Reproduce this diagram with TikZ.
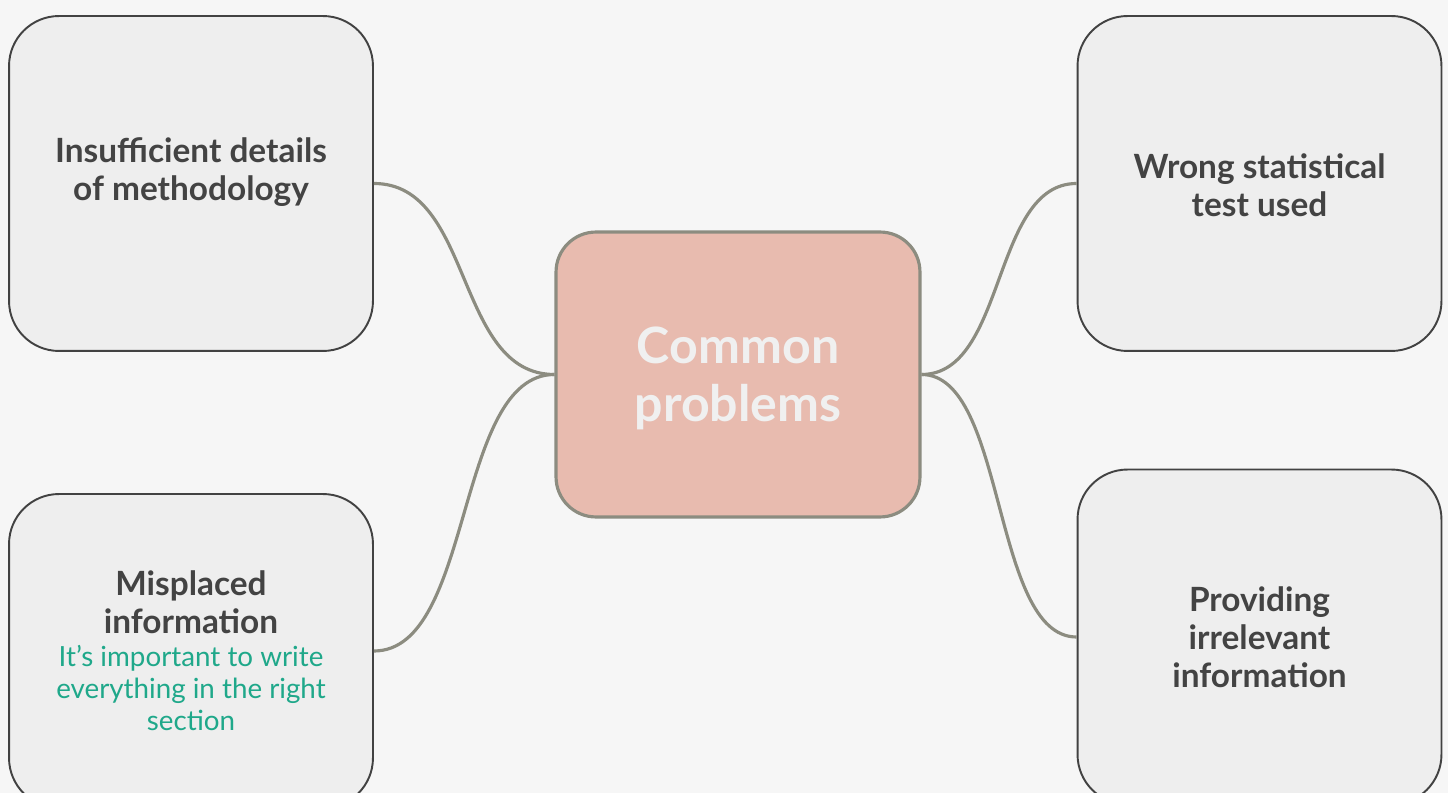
\documentclass[tikz,border=0pt]{standalone}
\usepackage{fontspec}
\setmainfont{Lato}
\usepackage{tikz}
\usetikzlibrary{positioning, calc}
\definecolor{mpBg}{HTML}{F6F6F6}
\definecolor{mpBox}{HTML}{EEEEEE}
\definecolor{mpInk}{HTML}{434343}
\definecolor{mpEdge}{HTML}{424242}
\definecolor{mpRose}{HTML}{E8BBAF}
\definecolor{mpOlive}{HTML}{8C8C80}
\definecolor{mpPale}{HTML}{F0F0F0}
\definecolor{mpTeal}{HTML}{1FA88A}

\begin{document}
\begin{tikzpicture}[
    x=0.02cm, y=-0.02cm,
    leaf/.style={draw=mpEdge, line width=1.1pt, fill=mpBox, rounded corners=1cm,
                 minimum width=7.28cm, minimum height=6.7cm},
    hub/.style={draw=mpOlive, line width=1.8pt, fill=mpRose, rounded corners=0.8cm,
                minimum width=7.28cm, minimum height=5.7cm},
    hubtext/.style={align=center, font=\fontsize{28.5}{33}\selectfont\bfseries, text=mpPale},
    head/.style={align=center, font=\fontsize{19}{21.5}\selectfont\bfseries, text=mpInk},
    note/.style={align=center, font=\fontsize{15.8}{18.2}\selectfont, text=mpTeal},
    link/.style={draw=mpOlive, line width=1.8pt},
]

% --- canvas ---
\useasboundingbox (0,0) rectangle (1448,793);
\fill[mpBg] (0,0) rectangle (1448,793);
\clip (0,0) rectangle (1448,793);

% --- boxes ---
\node[hub] (hub) at (738,374.5) {};
\node[leaf] (b1) at (191,183.5) {};
\node[leaf] (b2) at (1259.5,183.5) {};
\node[leaf, minimum height=6.28cm] (b3) at (191,651) {};
\node[leaf] (b4) at (1259.5,637) {};

% --- texts ---
\node[hubtext] (t0) at ([yshift=-0.08cm]hub.center) {Common\\problems};
\node[head] (t1) at ([yshift=0.23cm]b1.center) {Insufficient details\\of methodology};
\node[head] (t2) at ([yshift=-0.03cm]b2.center) {Wrong statistical\\test used};
\node[head] (t3) at (191,602) {Misplaced\\information};
\node[note, below=-0.02cm of t3] (t3n) {It’s important to write\\everything in the right\\section};
\node[head] (t4) at (b4.center) {Providing\\irrelevant\\information};

% --- connectors ---
\draw[link] (hub.west) .. controls +(-100,0) and +(100,0) .. (b1.east);
\draw[link] (hub.west) .. controls +(-100,0) and +(100,0) .. (b3.east);
\draw[link] (hub.east) .. controls +(85,0) and +(-85,0) .. (b2.west);
\draw[link] (hub.east) .. controls +(85,0) and +(-85,0) .. (b4.west);

\end{tikzpicture}
\end{document}
